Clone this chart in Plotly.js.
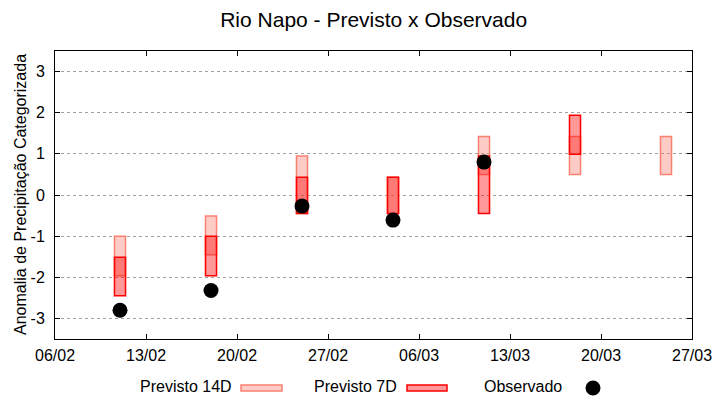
<!DOCTYPE html>
<html>
<head>
<meta charset="utf-8">
<script src="https://cdn.plot.ly/plotly-3.0.1.min.js"></script>
<style>html,body{margin:0;padding:0;background:#fff;}#chart{width:720px;height:400px;}</style>
</head>
<body>
<div id="chart"></div>
<script>
// ---- data ----
const dates = ['2023-02-11','2023-02-18','2023-02-25','2023-03-04','2023-03-11','2023-03-18','2023-03-25'];
const p14Upper = [-1.00, -0.51, 0.95, 0.43, 1.42, 1.42, 1.42];
const p14Lower = [-1.96, -1.45, -0.45, -0.45, 0.50, 0.50, 0.50];
const p7Upper  = [-1.51, -1.00, 0.43, 0.43, 0.95, 1.94, null];
const p7Lower  = [-2.45, -1.96, -0.45, -0.45, -0.45, 0.99, null];
const observed = [-2.80, -2.32, -0.27, -0.61, 0.80, null, null];
const seriesNames = ['Previsto 14D', 'Previsto 7D', 'Observado'];
const yTicks = [-3, -2, -1, 0, 1, 2, 3];

// ---- styles ----
const c14Fill = 'rgba(250,128,114,0.4)', c14Line = 'rgb(250,128,114)';
const c7Fill = 'rgba(255,0,0,0.4)', c7Line = 'rgb(255,0,0)';
const DAY = 86400000;
const FONT = 'Liberation Sans, Arial, sans-serif';

function span(u, l) { return u.map((v, i) => (v == null || l[i] == null) ? null : v - l[i]); }

const traces = [
  { type: 'bar', name: seriesNames[0], x: dates, base: p14Lower, y: span(p14Upper, p14Lower),
    width: 0.85 * DAY, marker: { color: c14Fill, line: { color: c14Line, width: 1.5 } }, showlegend: false },
  { type: 'bar', name: seriesNames[1], x: dates, base: p7Lower, y: span(p7Upper, p7Lower),
    width: 0.85 * DAY, marker: { color: c7Fill, line: { color: c7Line, width: 1.5 } }, showlegend: false },
  { type: 'scatter', mode: 'markers', name: seriesNames[2], x: dates, y: observed,
    marker: { color: '#000', size: 15, symbol: 'circle' }, showlegend: false }
];

// plot area in px for legend placement
const L = 55, R = 692, T = 51, B = 339;
const px = x => (x - L) / (R - L);
const py = y => (B - y) / (B - T);

const annotations = [
  { text: seriesNames[0], x: px(234), y: py(386), xanchor: 'right' },
  { text: seriesNames[1], x: px(399), y: py(386), xanchor: 'right' },
  { text: seriesNames[2], x: px(564), y: py(386), xanchor: 'right' },
  { text: 'Anomalia de Precipitação Categorizada', x: px(20), y: 0.5, xanchor: 'center', textangle: -90 }
].map(a => Object.assign(a, { xref: 'paper', yref: 'paper', yanchor: 'middle', showarrow: false,
  font: { family: FONT, size: 16, color: '#000' } }));

const shapes = [
  { type: 'rect', xref: 'paper', yref: 'paper', x0: px(241), x1: px(282), y0: py(391), y1: py(385),
    fillcolor: c14Fill, line: { color: c14Line, width: 1.5 } },
  { type: 'rect', xref: 'paper', yref: 'paper', x0: px(407), x1: px(447), y0: py(391), y1: py(385),
    fillcolor: c7Fill, line: { color: c7Line, width: 1.5 } },
  { type: 'circle', xref: 'paper', yref: 'paper', x0: px(585.5), x1: px(600.5), y0: py(395.5), y1: py(380.5),
    fillcolor: '#000', line: { width: 0 } }
];

const layout = {
  width: 720, height: 400,
  margin: { l: L, r: 720 - R, t: T, b: 400 - B, pad: 0 },
  paper_bgcolor: '#fff', plot_bgcolor: '#fff',
  font: { family: FONT, size: 16, color: '#000' },
  title: { text: 'Rio Napo - Previsto x Observado', x: 0.519, xanchor: 'center', y: 0.95, yanchor: 'middle',
    font: { family: FONT, size: 21, color: '#000' } },
  barmode: 'overlay',
  showlegend: false,
  xaxis: {
    type: 'date', range: ['2023-02-06', '2023-03-27'],
    tickmode: 'linear', tick0: '2023-02-06', dtick: 7 * DAY, tickformat: '%d/%m',
    showgrid: false, zeroline: false,
    showline: true, linecolor: '#000', linewidth: 1, mirror: 'ticks',
    ticks: 'inside', ticklen: 5, tickcolor: '#000', tickwidth: 1,
    tickfont: { family: FONT, size: 16, color: '#000' }, ticklabelstandoff: 2
  },
  yaxis: {
    range: [-3.5, 3.5], tickmode: 'array', tickvals: yTicks, ticktext: yTicks.map(String),
    showgrid: true, gridcolor: '#a0a0a0', gridwidth: 1, griddash: '3px,3px', zeroline: false,
    showline: true, linecolor: '#000', linewidth: 1, mirror: 'ticks',
    ticks: 'inside', ticklen: 5, tickcolor: '#000', tickwidth: 1,
    tickfont: { family: FONT, size: 16, color: '#000' }, ticklabelstandoff: 6
  },
  annotations: annotations,
  shapes: shapes
};

Plotly.newPlot('chart', traces, layout, { displayModeBar: false, staticPlot: true });
</script>
</body>
</html>
